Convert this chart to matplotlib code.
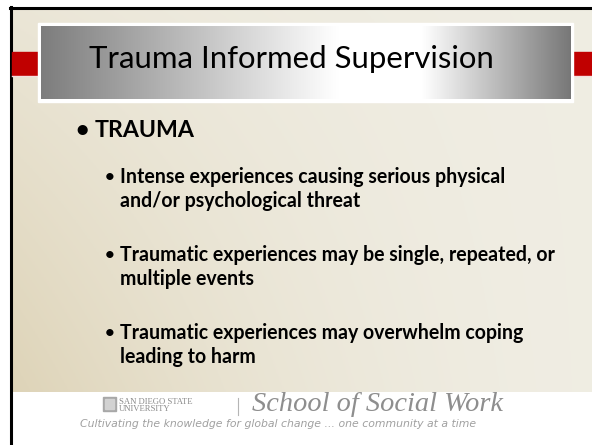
import matplotlib.pyplot as plt
import numpy as np

# slide content
title = "Trauma Informed Supervision"
heading = "TRAUMA"
bullets = [
    ["Intense experiences causing serious physical", "and/or psychological threat"],
    ["Traumatic experiences may be single, repeated, or", "multiple events"],
    ["Traumatic experiences may overwhelm coping", "leading to harm"],
]
bullet_base = [183, 261, 339]
footer_school = "School of Social Work"
footer_uni = ["SAN DIEGO STATE", "UNIVERSITY"]
footer_tagline = "Cultivating the knowledge for global change ... one community at a time"

W, H = 592, 445
fig = plt.figure(figsize=(W / 100, H / 100), dpi=100)
ax = fig.add_axes([0, 0, 1, 1])
ax.set_xlim(0, W)
ax.set_ylim(H, 0)
ax.axis("off")
renderer = fig.canvas.get_renderer()


def fit_size(text, width, **kw):
    # font size that gives the text the wanted pixel width
    t = ax.text(0, 0, text, fontsize=10, **kw)
    w = t.get_window_extent(renderer).width
    t.remove()
    return 10 * width / w


# white page
ax.add_patch(plt.Rectangle((0, 0), W, H, color="white", zorder=0))

# slide background: tan at bottom-left, pale at top-right
gx = np.linspace(0, 1, 200)
gy = np.linspace(0, 1, 120)
X, Y = np.meshgrid(gx, gy)
t = np.clip(0.65 * (1 - X) ** 2 * (0.35 + 0.65 * Y) + 0.12 * Y * (1 - X), 0, 1)
c_light = np.array([0.94, 0.93, 0.89])
c_dark = np.array([0.85, 0.80, 0.67])
bg = c_light * (1 - t[..., None]) + c_dark * t[..., None]
ax.imshow(bg, extent=(12, W, 392, 9), aspect="auto", zorder=1)

# black frame lines top and left
ax.plot([10, W], [8, 8], color="black", lw=2.2, zorder=2)
ax.plot([11, 11], [7, H], color="black", lw=2.2, zorder=2)

# red bars either side of the title
ax.add_patch(plt.Rectangle((12, 52), 27, 23, color="#c00000", zorder=2))
ax.add_patch(plt.Rectangle((573, 52), W - 573, 23, color="#c00000", zorder=2))
ax.plot([12, 39], [75.8, 75.8], color="#f5dede", lw=1, zorder=2)
ax.plot([573, W], [75.8, 75.8], color="#f5dede", lw=1, zorder=2)

# title box with white border and grey-white-grey gradient
ax.add_patch(plt.Rectangle((38, 23), 535, 79, color="white", zorder=3))
hx = np.linspace(0, 1, 300)
shade = np.interp(hx, [0, 0.56, 0.72, 1], [0.49, 1.0, 1.0, 0.47])
box = np.repeat(shade[None, :, None], 3, axis=2)
ax.imshow(box, extent=(41, 571, 99, 26), aspect="auto", zorder=4)
fs_title = fit_size(title, 405, family="Lato")
ax.text(89, 68, title, fontsize=fs_title, family="Lato", va="baseline",
        color="black", zorder=5)

# body text
fs_head = fit_size(heading, 100, family="Lato", weight="bold")
ax.text(75, 137, "\u2022", fontsize=fs_head, weight="bold", family="Lato",
        va="baseline", zorder=5)
ax.text(95, 137, heading, fontsize=fs_head, weight="bold", family="Lato",
        va="baseline", zorder=5)
fs_body = fit_size("Traumatic experiences may be singl", 310,
                   family="Lato", weight="bold")
for lines, y in zip(bullets, bullet_base):
    ax.text(105, y - 1, "\u2022", fontsize=fs_body * 0.85, weight="bold",
            family="Lato", va="baseline", zorder=5)
    for k, line in enumerate(lines):
        ax.text(120, y + 24 * k, line, fontsize=fs_body, weight="bold",
                family="Lato", va="baseline", zorder=5)

# footer
ax.add_patch(plt.Rectangle((103, 397), 13, 14, color="#a8a8a8", zorder=5))
ax.add_patch(plt.Rectangle((105, 399), 9, 10, color="#d2d2d2", zorder=5))
ax.text(119, 403.5, footer_uni[0], fontsize=6.2, family="Liberation Serif",
        color="#8a8a8a", va="baseline", zorder=5)
ax.text(119, 411, footer_uni[1], fontsize=6.2, family="Liberation Serif",
        color="#8a8a8a", va="baseline", zorder=5)
ax.plot([238, 238], [398, 415], color="#b5b5b5", lw=0.8, zorder=5)
fs_school = fit_size(footer_school, 251, family="Liberation Serif", style="italic")
ax.text(252, 411, footer_school, fontsize=fs_school, family="Liberation Serif",
        style="italic", color="#8e8e8e", va="baseline", zorder=5)
fs_tag = fit_size(footer_tagline, 395, family="DejaVu Sans", style="italic")
ax.text(278, 424, footer_tagline, fontsize=fs_tag, family="DejaVu Sans",
        style="italic", color="#a0a0a0", ha="center", va="center", zorder=5)

fig.savefig("out.png", dpi=100)
